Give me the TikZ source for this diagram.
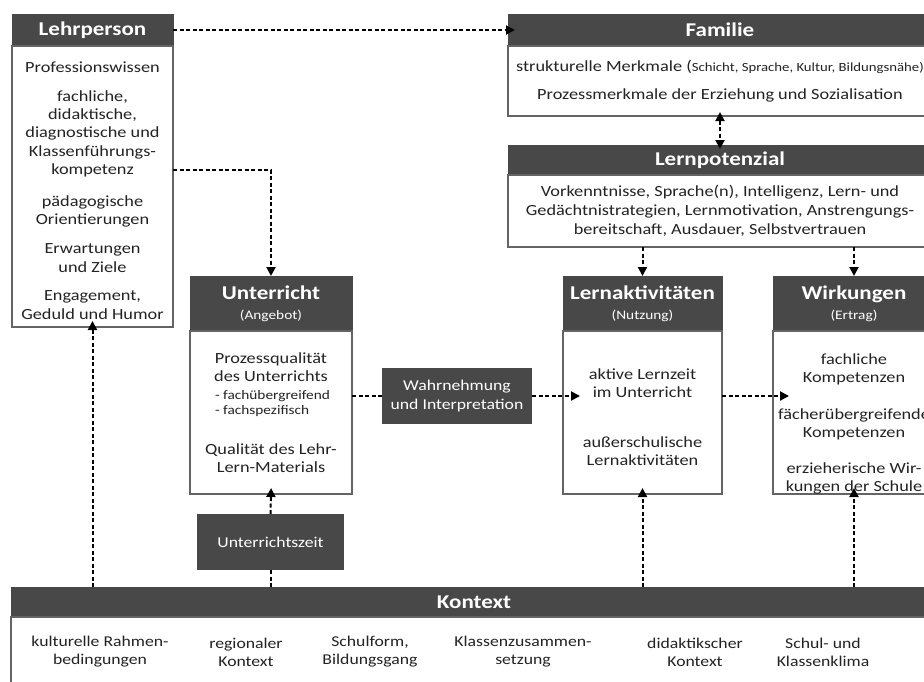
\documentclass[tikz,border=0pt]{standalone}
\usepackage{fontspec}
\setmainfont{Carlito}[FakeStretch=1.18]
\usetikzlibrary{arrows.meta}
\definecolor{headgray}{RGB}{72,72,72}
\definecolor{framegray}{RGB}{100,100,100}
\definecolor{inkgray}{RGB}{35,35,35}

\begin{document}
\begin{tikzpicture}[x=1pt,y=-1pt,inner sep=0pt,outer sep=0pt,
head/.style={fill=headgray,draw=headgray,rectangle,text=white,align=center,font=\fontsize{19.5}{20}\selectfont\bfseries,minimum height=32pt},
body/.style={draw=framegray,line width=1.5pt,fill=white,rectangle,text=inkgray,align=center,font=\fontsize{15.5}{18}\selectfont,anchor=north},
darkbox/.style={fill=headgray,rectangle,text=white,align=center,font=\fontsize{15}{19}\selectfont},
item/.style={text=inkgray,align=center,font=\fontsize{15}{18}\selectfont},
conn/.style={line width=2pt,dash pattern=on 4pt off 2.5pt},
>={Triangle[length=9pt,width=9pt]}]

\useasboundingbox (0,0) rectangle (924,681);

\draw (92.5,30) node[head,minimum width=161pt] (lehrhead) {Lehrperson};
\draw (lehrhead.south) node[body,minimum width=161pt,minimum height=281pt,font=\fontsize{15.5}{18.4}\selectfont] (lehrbody) {\rule{0pt}{19pt}Professionswissen\\[10pt]fachliche,\\didaktische,\\diagnostische und\\Klassenführungs-\\kompetenz\\[13pt]pädagogische\\Orientierungen\\[11pt]Erwartungen\\und Ziele\\[10pt]Engagement,\\Geduld und Humor};

\draw (720,30) node[head,minimum width=424pt] (famhead) {Familie};
\draw (famhead.south) node[body,minimum width=424pt,minimum height=70pt] (fambody) {strukturelle Merkmale ({\fontsize{12.5}{15}\selectfont Schicht, Sprache, Kultur, Bildungsnähe)}\\[10pt]Prozessmerkmale der Erziehung und Sozialisation};

\draw (720,160) node[head,minimum width=424pt,minimum height=30pt] (pothead) {Lernpotenzial};
\draw (pothead.south) node[body,minimum width=424pt,minimum height=72pt,font=\fontsize{15.5}{19}\selectfont] (potbody) {Vorkenntnisse, Sprache(n), Intelligenz, Lern- und\\Gedächtnistrategien, Lernmotivation, Anstrengungs-\\bereitschaft, Ausdauer, Selbstvertrauen};

\draw (271,303.5) node[head,minimum width=162pt,minimum height=55pt] (unthead) {Unterricht\\{\fontsize{13}{15}\selectfont\mdseries (Angebot)}};
\draw (unthead.south) node[body,minimum width=162pt,minimum height=163pt] (untbody) {Prozessqualität\\des Unterrichts\\{\fontsize{13}{15}\selectfont\makebox[112pt][l]{- fachübergreifend}}\\[-3pt]{\fontsize{13}{15}\selectfont\makebox[112pt][l]{- fachspezifisch}}\\[22pt]Qualität des Lehr-\\Lern-Materials};

\draw (642.5,303.5) node[head,minimum width=159pt,minimum height=55pt] (akthead) {Lernaktivitäten\\{\fontsize{13}{15}\selectfont\mdseries (Nutzung)}};
\draw (akthead.south) node[body,minimum width=159pt,minimum height=163pt] (aktbody) {\rule{0pt}{21pt}aktive Lernzeit\\im Unterricht\\[32pt]außerschulische\\Lernaktivitäten};

\draw (854,303.5) node[head,minimum width=162pt,minimum height=55pt] (wirkhead) {Wirkungen\\{\fontsize{13}{15}\selectfont\mdseries (Ertrag)}};
\draw (wirkhead.south) node[body,minimum width=162pt,minimum height=163pt] (wirkbody) {\rule{0pt}{33pt}fachliche\\Kompetenzen\\[19pt]fächerübergreifende\\Kompetenzen\\[18pt]erzieherische Wir-\\kungen der Schule};

\draw (457,396) node[darkbox,minimum width=150pt,minimum height=56pt] (wahr) {Wahrnehmung\\und Interpretation};
\draw (270.5,542) node[darkbox,minimum width=147pt,minimum height=56pt] (uzeit) {Unterrichtszeit};

\draw (474,602) node[head,minimum width=926pt,minimum height=30pt] (konhead) {Kontext};
\draw (konhead.south) node[body,minimum width=926pt,minimum height=90pt] (konbody) {};
\draw (100,652) node[item] (kultur) {kulturelle Rahmen-\\bedingungen};
\draw (246,652) node[item] (region) {regionaler\\Kontext};
\draw (370,652) node[item] (schulform) {Schulform,\\Bildungsgang};
\draw (523,652) node[item] (klasse) {Klassenzusammen-\\setzung};
\draw (695,652) node[item] (didaktik) {didaktikscher\\Kontext};
\draw (823,652) node[item] (klima) {Schul- und\\Klassenklima};

\draw[conn,->,shorten >=-7pt] (lehrhead.east) -- (famhead.west);
\draw[conn,->] ([yshift=16.5pt]lehrbody.east) -| (unthead.north);
\draw[conn,<->,shorten >=-4pt,shorten <=-4pt] (fambody.south) -- (pothead.north);
\draw[conn,->] (potbody.south -| akthead.north) -- (akthead.north);
\draw[conn,->] (potbody.south -| wirkhead.north) -- (wirkhead.north);
\draw[conn] (untbody.east |- wahr.west) -- (wahr.west);
\draw[conn,->,shorten >=-17pt] (wahr.east) -- (aktbody.west |- wahr.east);
\draw[conn,->,shorten >=-16pt] (aktbody.east |- wahr.east) -- (wirkbody.west |- wahr.east);
\draw[conn,->,shorten >=-6pt] (konhead.north -| lehrbody.south) -- (lehrbody.south);
\draw[conn] (konhead.north -| uzeit.south) -- (uzeit.south);
\draw[conn,->,shorten >=-6pt] (uzeit.north) -- (untbody.south);
\draw[conn,->,shorten >=-6pt] (konhead.north -| aktbody.south) -- (aktbody.south);
\draw[conn,->,shorten >=-6pt] (konhead.north -| wirkbody.south) -- (wirkbody.south);
\end{tikzpicture}
\end{document}
